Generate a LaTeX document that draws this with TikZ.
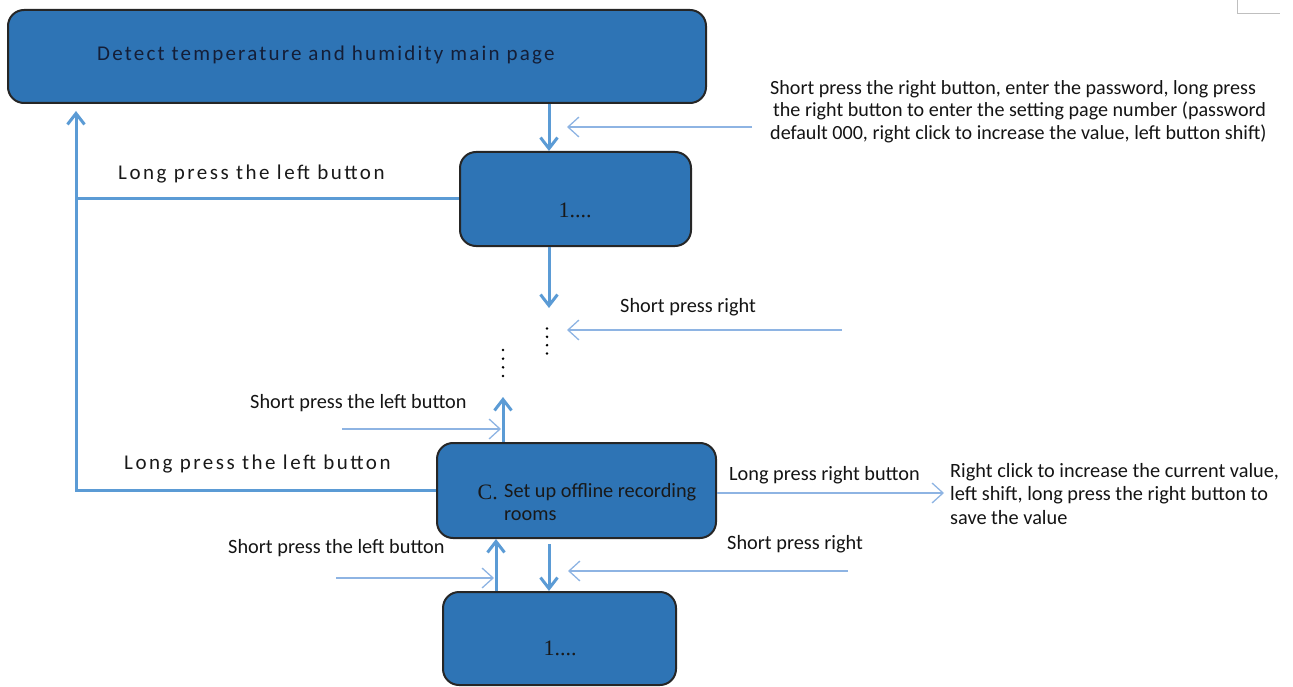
\documentclass[tikz,border=0pt]{standalone}
\usepackage{fontspec}
\setmainfont{Carlito}
\newfontfamily\widefont{Carlito}[LetterSpace=12]
\newfontfamily\titlefont{Carlito}[LetterSpace=10.5]
\newfontfamily\seriffont{Liberation Serif}
\usetikzlibrary{arrows.meta,calc}
\definecolor{boxblue}{RGB}{46,116,181}
\definecolor{linkblue}{RGB}{91,155,213}
\definecolor{thinblue}{RGB}{142,180,227}
\definecolor{titleink}{RGB}{20,30,55}
\tikzset{
  pagebox/.style={draw=black!85, line width=2pt, fill=boxblue, rounded corners=16pt, inner sep=0pt},
  thickarrow/.style={draw=linkblue, line width=3pt, -{Straight Barb[length=11pt,width=17pt]}},
  thickline/.style={draw=linkblue, line width=3pt},
  thinarrow/.style={draw=thinblue, line width=1.3pt, -{Straight Barb[length=11pt,width=20pt]}},
  lbl/.style={anchor=west, inner sep=0pt, font=\fontsize{20.3}{23.5}\selectfont, text=black!92},
  widelbl/.style={anchor=west, inner sep=0pt, font=\widefont\fontsize{21}{24}\selectfont, text=black!90},
  numtxt/.style={inner sep=0pt, font=\seriffont\fontsize{22}{25}\selectfont, text=black!90},
  vdots/.style={inner sep=0pt}
}
\begin{document}
\begin{tikzpicture}[x=1pt,y=-1pt]
\useasboundingbox (0,0) rectangle (1293,687);
% corner mark
\draw[black!25, line width=0.8pt] (1237,0) -- (1237,13) -- (1280,13);

% boxes
\node[pagebox, minimum width=698pt, minimum height=93pt] (main) at (357,56.5) {};
\node[pagebox, minimum width=231pt, minimum height=94pt] (box1) at (575.5,199) {};
\node[pagebox, minimum width=279pt, minimum height=95pt] (boxC) at (576.5,490.5) {};
\node[pagebox, minimum width=233pt, minimum height=93pt] (bot) at (559.5,638.5) {};

% box texts
\node[anchor=west, inner sep=0pt, font=\titlefont\fontsize{21}{24}\selectfont, text=titleink] (maintxt) at (97,55) {Detect temperature and humidity main page};
\node[numtxt] (box1txt) at (575,210) {1....};
\node[anchor=west, inner sep=0pt, font=\fontsize{20.3}{23.5}\selectfont, text=black!90] (boxCtxt1) at (504,492) {Set up offline recording};
\node[anchor=east, inner sep=0pt, font=\seriffont\fontsize{22}{25}\selectfont, text=black!90] (boxCC) at (498,492) {C.};
\node[anchor=west, inner sep=0pt, font=\fontsize{20.3}{23.5}\selectfont, text=black!90] (boxCtxt2) at (504,516) {rooms};
\node[numtxt] (bottxt) at (560,648) {1....};

% coordinates
\coordinate (xa) at (549,0);
\coordinate (xb) at (503,0);
\coordinate (xc) at (496,0);
\coordinate (xl) at (76,0);
\coordinate (tipA) at (549,308);
\coordinate (tipB) at (503,397);
\coordinate (startD) at (549,544);

% main -> box1
\draw[thickarrow] (main.south -| xa) -- (box1.north -| xa);
% thin from right (password)
\coordinate (r1s) at (752,127);
\coordinate (r1e) at (567,127);
\draw[thinarrow] (r1s) -- (r1e);
% long press left back to main
\draw[thickline] (box1.west) -- (box1.west -| xl);
\draw[thickarrow, shorten >=7pt] (boxC.west) -- (boxC.west -| xl) -- (main.south -| xl);
% box1 down
\draw[thickarrow] (box1.south -| xa) -- (tipA);
% dots
\node[vdots] (dots1) at (547,341) {\tikz[x=1pt,y=-1pt]{\foreach \k in {0,1,2,3} \fill[black] (0,8.3*\k) circle (1.4pt);}};
\node[vdots] (dots2) at (503,363) {\tikz[x=1pt,y=-1pt]{\foreach \k in {0,1,2,3} \fill[black] (0,8.7*\k) circle (1.4pt);}};
% short press right (middle)
\coordinate (r2s) at (842,330);
\coordinate (r2e) at (567,330);
\draw[thinarrow] (r2s) -- (r2e);
% boxC up
\draw[thickarrow] (boxC.north -| xb) -- (tipB);
% short press left (upper)
\coordinate (l1s) at (342,429);
\coordinate (l1e) at (501,429);
\draw[thinarrow] (l1s) -- (l1e);
% long press right
\coordinate (r3e) at (944,493);
\draw[thinarrow] (boxC.east |- r3e) -- (r3e);
% bottom up to C
\draw[thickarrow] (bot.north -| xc) -- (boxC.south -| xc);
% C down to bottom
\draw[thickarrow] (startD) -- (bot.north -| xa);
% short press left (lower)
\coordinate (l2s) at (336,578);
\coordinate (l2e) at (494,578);
\draw[thinarrow] (l2s) -- (l2e);
% short press right (lower)
\coordinate (r4s) at (848,571);
\coordinate (r4e) at (568,571);
\draw[thinarrow] (r4s) -- (r4e);

% labels
\node[lbl, anchor=north west, align=left, font=\fontsize{20.1}{22.5}\selectfont] (pwtxt) at (770,80) {Short press the right button, enter the password, long press\\\hspace{3pt}the right button to enter the setting page number (password\\default 000, right click to increase the value, left button shift)};
\node[widelbl] (lpl1) at (118,174) {Long press the left button};
\node[lbl] (spr1) at (620,307) {Short press right};
\node[lbl] (spl1) at (250,403) {Short press the left button};
\node[widelbl] (lpl2) at (124,464) {Long press the left button};
\node[lbl] (lpr) at (729,475) {Long press right button};
\node[lbl, anchor=north west, align=left] (rctxt) at (950,463) {Right click to increase the current value,\\left shift, long press the right button to\\save the value};
\node[lbl] (spl2) at (228,548) {Short press the left button};
\node[lbl] (spr2) at (727,544) {Short press right};
\end{tikzpicture}
\end{document}
